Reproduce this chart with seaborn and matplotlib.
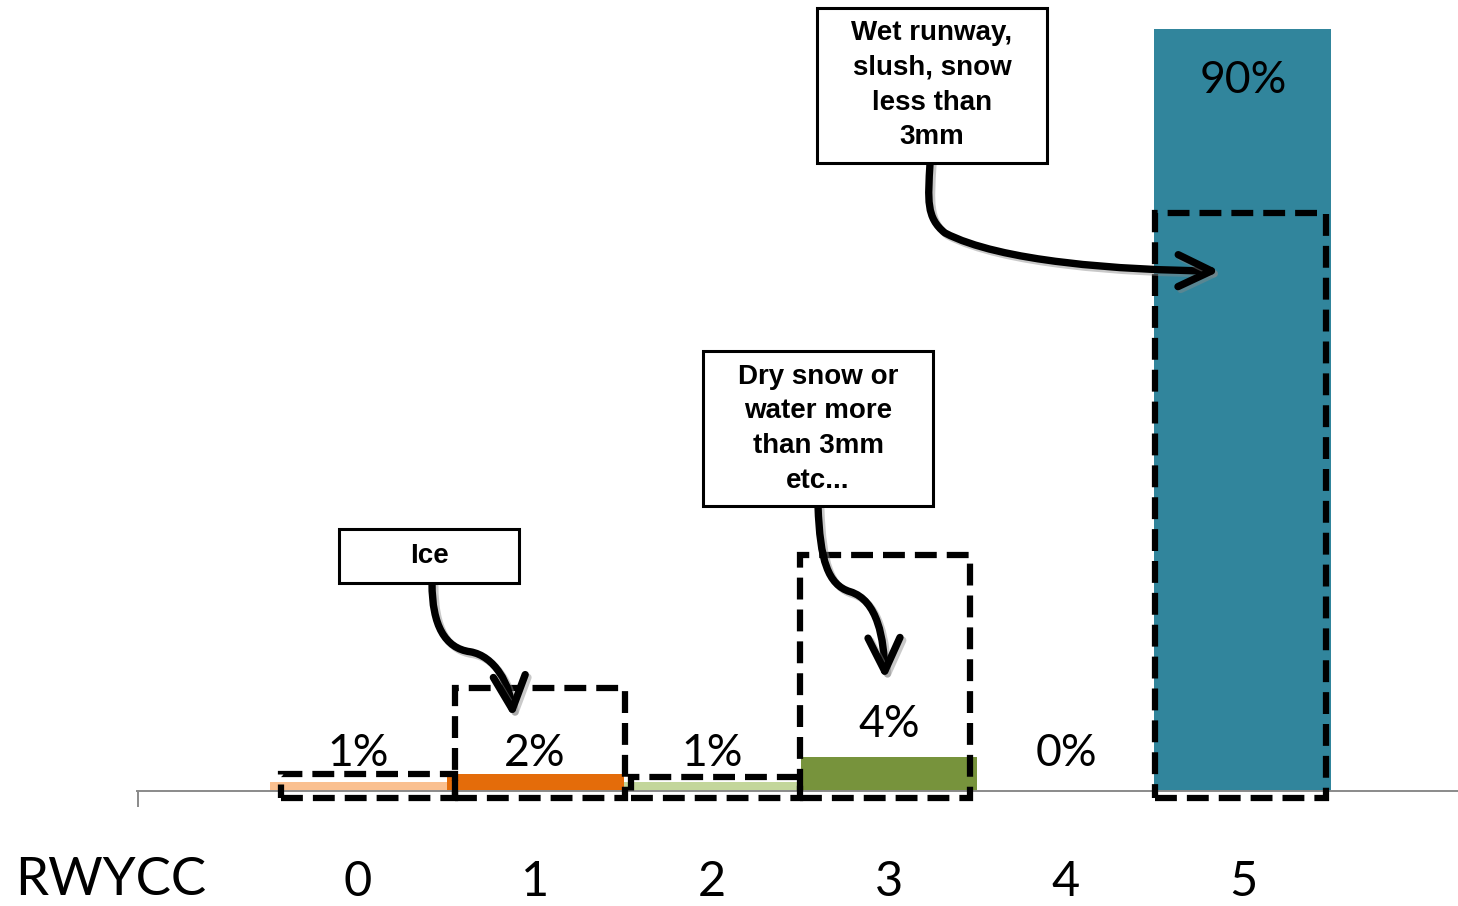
import matplotlib
matplotlib.use("Agg")
import matplotlib.pyplot as plt
import matplotlib.patheffects as pe
from matplotlib.patches import Rectangle, FancyArrowPatch
from matplotlib.path import Path
import pandas as pd
import seaborn as sns

# ---- data -------------------------------------------------------------
categories = ["0", "1", "2", "3", "4", "5"]
shares = [1, 2, 1, 4, 0, 90]          # percent of reports per RWYCC
bar_colors = ["#FAC090", "#E46C0A", "#C3D69B", "#77933C", "#93CDDD", "#31859C"]
axis_title = "RWYCC"

# dashed highlight frames: left / right edge (category units) and top (percent)
frame_x0 = [-0.435, 0.548, 1.542, 2.497, 4.503]
frame_x1 = [0.548, 1.508, 2.497, 3.458, 5.469]
frame_top = [1.95, 12.1, 1.6, 27.8, 68.3]

# callouts: text, box (x0, x1, y0, y1) and the bezier path of the arrow
callout_text = [
    "Ice",
    "Dry snow or\nwater more\nthan 3mm\netc...",
    "Wet runway,\nslush, snow\nless than\n3mm",
]
callout_box = [
    (-0.107, 0.910, 24.5, 30.9),
    (1.949, 3.249, 33.6, 51.9),
    (2.593, 3.893, 74.2, 92.5),
]
callout_path = [
    [(0.418, 24.5), (0.418, 19.5), (0.492, 16.8), (0.633, 16.4),
     (0.774, 15.9), (0.859, 12.5), (0.876, 8.6)],
    [(2.599, 33.6), (2.610, 27.2), (2.655, 24.3), (2.780, 23.5),
     (2.938, 22.5), (2.972, 17.8), (2.977, 13.1)],
    [(3.232, 74.2), (3.220, 69.8), (3.209, 67.7), (3.316, 65.9),
     (3.627, 62.5), (4.305, 61.5), (4.870, 61.4)],
]

# ---- style ------------------------------------------------------------
sns.set_style("white")
plt.rcParams["font.family"] = ["Lato", "DejaVu Sans"]
plt.rcParams["text.color"] = "black"

df = pd.DataFrame({"rwycc": categories, "share": shares})

fig = plt.figure(figsize=(14.58, 9.06), dpi=100)
ax = fig.add_axes([137 / 1458, 115.5 / 906, 1321 / 1458, 790.5 / 906])

sns.barplot(data=df, x="rwycc", y="share", hue="rwycc", palette=bar_colors,
            width=1.0, saturation=1, legend=False, linewidth=0, ax=ax)

x_left, x_right = -1.249, 6.215
ax.set_xlim(x_left, x_right)
ax.set_ylim(0, 93.43)

for side in ("left", "top", "right"):
    ax.spines[side].set_visible(False)
ax.spines["bottom"].set_color("#8a8a8a")
ax.spines["bottom"].set_linewidth(1.4)
ax.set_yticks([])
ax.set_xlabel("")
ax.set_ylabel("")

ax.set_xticks(range(len(categories)), categories)
ax.tick_params(axis="x", which="major", length=0, pad=50, labelsize=35,
               labelcolor="black")
# single outside tick at the start of the category axis
ax.set_xticks([x_left + 0.004], minor=True)
ax.tick_params(axis="x", which="minor", bottom=True, length=11.5, width=1.4,
               color="#8a8a8a", direction="out")

fig.text(111 / 1458, 11 / 906, axis_title, ha="center", va="baseline",
         fontsize=38, color="black")

# value labels: above short bars (kept off the axis), inside the tall one
label_floor = 2.9
for i, v in enumerate(shares):
    if v > 50:
        y = v - 7.6
    elif v > 3:
        y = v + 2.3
    else:
        y = label_floor
    ax.text(i, y, f"{v}%", ha="center", va="baseline", fontsize=32,
            color="black", zorder=3)

# dashed highlight frames
dash = (0, (3.5, 1.6))
for x0, x1, top in zip(frame_x0, frame_x1, frame_top):
    ax.add_patch(Rectangle((x0, -0.9), x1 - x0, top + 0.9,
                           fill=False, edgecolor="black", linewidth=4.5,
                           linestyle=dash, capstyle="butt", joinstyle="miter",
                           clip_on=False, zorder=4))

# callout boxes and curved arrows
codes = [Path.MOVETO] + [Path.CURVE4] * 6
shadow = [pe.SimpleLineShadow(offset=(2, -2), shadow_color="#888888", alpha=0.45),
          pe.Normal()]
for text, (x0, x1, y0, y1), pts in zip(callout_text, callout_box, callout_path):
    arrow = FancyArrowPatch(path=Path(pts, codes),
                            arrowstyle="->,head_length=24,head_width=11.5",
                            mutation_scale=1, linewidth=5.3, color="black",
                            capstyle="round", joinstyle="round",
                            clip_on=False, zorder=5, path_effects=shadow)
    ax.add_patch(arrow)
    ax.add_patch(Rectangle((x0, y0), x1 - x0, y1 - y0, facecolor="white",
                           edgecolor="black", linewidth=2.2, clip_on=False,
                           zorder=6))
    ax.text((x0 + x1) / 2, (y0 + y1) / 2, text, ha="center", va="center",
            multialignment="center", fontsize=20, fontweight="bold",
            color="black", family=["Liberation Sans", "DejaVu Sans"],
            linespacing=1.43, zorder=7)

fig.savefig("out.png", dpi=100, facecolor="white")
